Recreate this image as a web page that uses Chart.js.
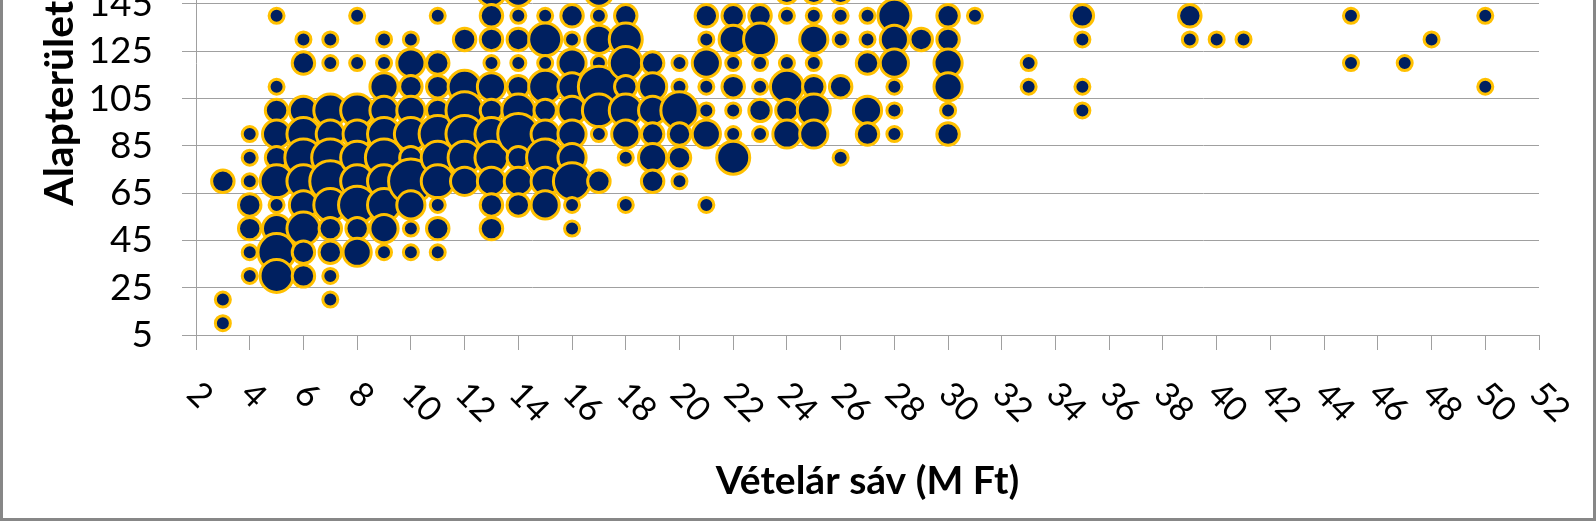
<!DOCTYPE html>
<html><head><meta charset="utf-8">
<script src="https://cdn.jsdelivr.net/npm/chart.js@4.4.1/dist/chart.umd.min.js"></script>
<style>
html,body{margin:0;padding:0;background:#fff;overflow:hidden;}
#wrap{position:relative;width:1596px;height:521px;overflow:hidden;background:#fff;}
#frame{position:absolute;left:0;top:-20px;width:1590px;height:535px;border:3px solid #878787;pointer-events:none;}
canvas{position:absolute;left:0;top:-260px;}
</style></head>
<body><div id="wrap"><canvas id="c" width="1596" height="781"></canvas><div id="frame"></div></div>
<script>
// Price band (M Ft) of each bubble
const priceBand = [
  3,3,3,
  4,4,4,4,4,4,4,
  5,5,5,5,5,5,5,5,5,5,
  6,6,6,6,6,6,6,6,6,6,
  7,7,7,7,7,7,7,7,7,7,7,
  8,8,8,8,8,8,8,8,8,
  9,9,9,9,9,9,9,9,9,9,
  10,10,10,10,10,10,10,10,10,10,
  11,11,11,11,11,11,11,11,11,11,
  12,12,12,12,12,12,
  13,13,13,13,13,13,13,13,13,13,13,
  14,14,14,14,14,14,14,14,14,14,
  15,15,15,15,15,15,15,15,15,
  16,16,16,16,16,16,16,16,16,16,
  17,17,17,17,17,17,17,17,
  18,18,18,18,18,18,18,18,
  19,19,19,19,19,19,
  20,20,20,20,20,20,
  21,21,21,21,21,21,21,
  22,22,22,22,22,22,22,
  23,23,23,23,23,23,
  24,24,24,24,24,24,
  25,25,25,25,25,25,25,
  26,26,26,26,26,
  27,27,27,27,27,
  28,28,28,28,28,28,
  29,
  30,30,30,30,30,30,
  31,
  33,33,
  35,35,35,35,
  39,39,
  40,
  41,
  45,45,
  47,
  48,
  50,50
];
// Floor area (m2) of each bubble
const floorArea = [
  70,20,10,
  90,80,70,60,50,40,30,
  140,110,100,90,80,70,60,50,40,30,
  130,120,100,90,80,70,60,50,40,30,
  130,120,100,90,80,70,60,50,40,30,20,
  140,120,100,90,80,70,60,50,40,
  130,120,110,100,90,80,70,60,50,40,
  130,120,110,100,90,80,70,60,50,40,
  140,120,110,100,90,80,70,60,50,40,
  130,110,100,90,80,70,
  150,140,130,120,110,100,90,80,70,60,50,
  150,140,130,120,110,100,90,80,70,60,
  140,130,120,110,100,90,80,70,60,
  140,130,120,110,100,90,80,70,60,50,
  150,140,130,120,110,100,90,70,
  140,130,120,110,100,90,80,60,
  120,110,100,90,80,70,
  120,110,100,90,80,70,
  140,130,120,110,100,90,60,
  140,130,120,110,100,90,80,
  140,130,120,110,100,90,
  150,140,120,110,100,90,
  150,140,130,120,110,100,90,
  150,140,130,110,80,
  140,130,120,100,90,
  140,130,120,110,100,90,
  130,
  140,130,120,110,100,90,
  140,
  120,110,
  140,130,110,100,
  140,130,
  130,
  130,
  140,120,
  120,
  130,
  140,110
];
// Number of listings in each bubble (bubble area)
const listings = [
  2,1,1,
  1,1,1,2,2,1,1,
  1,1,2,3,2,4,1,3,5,4,
  1,2,3,4,5,4,3,4,2,2,
  1,1,4,3,5,6,4,2,2,1,1,
  1,1,4,3,4,4,5,2,3,
  1,1,3,3,4,5,4,4,3,1,
  1,3,2,3,4,2,7,3,1,1,
  1,2,2,2,5,4,4,1,2,1,
  2,4,5,5,4,3,
  3,2,2,1,3,2,4,4,3,2,2,
  3,1,2,1,2,4,6,2,3,2,
  1,4,1,4,2,3,5,3,3,
  2,1,3,3,3,3,3,5,1,1,
  3,1,3,1,6,4,1,2,
  2,4,4,2,4,3,1,1,
  2,3,3,2,3,2,
  1,1,5,2,2,1,
  2,1,3,1,1,3,1,
  2,3,1,2,1,1,4,
  2,4,1,1,2,1,
  2,1,1,4,2,3,
  2,1,3,1,2,4,3,
  2,1,1,2,1,
  1,1,2,3,2,
  4,3,3,1,1,1,
  2,
  2,2,3,3,1,2,
  1,
  1,1,
  2,1,1,1,
  2,1,
  1,
  1,
  1,1,
  1,
  1,
  1,1
];
const xTickLabels = ['2','4','6','8','10','12','14','16','18','20','22','24','26','28','30','32','34','36','38','40','42','44','46','48','50','52'];
const yTickValues = [5, 25, 45, 65, 85, 105, 125, 145];
const yAxisMin = 5, yAxisMax = 235;

const points = priceBand.map((x, i) => ({ x: x, y: floorArea[i], n: listings[i] }));

const GRID = '#a0a0a0';

const xLabelPlugin = {
  id: 'xRotLabels',
  afterDraw(chart) {
    const s = chart.scales.x, c = chart.ctx;
    c.save();
    c.font = '34px Lato';
    c.fillStyle = '#000';
    c.textAlign = 'left';
    c.textBaseline = 'alphabetic';
    xTickLabels.forEach(lbl => {
      const px = s.getPixelForValue(Number(lbl));
      c.save();
      c.translate(px - 11, s.top + 61);
      c.rotate(Math.PI / 4);
      c.fillText(lbl, 0, 0);
      c.restore();
    });
    c.restore();
  }
};

new Chart(document.getElementById('c').getContext('2d'), {
  type: 'bubble',
  data: {
    datasets: [{
      data: points,
      backgroundColor: '#002060',
      borderColor: '#FFC000',
      borderWidth: 3,
      radius: ctx => 9 * Math.sqrt(ctx.raw.n) - 1.5,
      clip: false
    }]
  },
  options: {
    responsive: false,
    animation: false,
    events: [],
    layout: { autoPadding: false, padding: { left: 0, right: 57, top: 44, bottom: 0 } },
    plugins: { legend: { display: false }, tooltip: { enabled: false } },
    scales: {
      x: {
        type: 'linear', min: 2, max: 52,
        ticks: { stepSize: 2, display: false },
        grid: { drawOnChartArea: false, drawTicks: true, tickLength: 15, color: GRID, lineWidth: 1 },
        border: { display: true, color: GRID, width: 1 },
        title: { display: true, text: 'Vételár sáv (M Ft)', color: '#000',
                 font: { family: 'Lato', size: 39, weight: 'bold' }, padding: { top: 0, bottom: 16 } },
        afterFit: s => { s.height = 186; }
      },
      y: {
        type: 'linear', min: yAxisMin, max: yAxisMax,
        afterBuildTicks: s => { s.ticks = yTickValues.map(v => ({ value: v })); },
        ticks: { color: '#000', font: { family: 'Lato', size: 37 }, padding: 29 },
        grid: { color: GRID, tickLength: 14, lineWidth: 1 },
        border: { display: true, color: GRID, width: 1 },
        title: { display: true, text: 'Alapterület (m²)', color: '#000',
                 font: { family: 'Lato', size: 41, weight: 'bold' }, padding: { top: 35, bottom: 0 } },
        afterFit: s => { s.width = 196; }
      }
    }
  },
  plugins: [xLabelPlugin]
});
</script>
</body></html>
